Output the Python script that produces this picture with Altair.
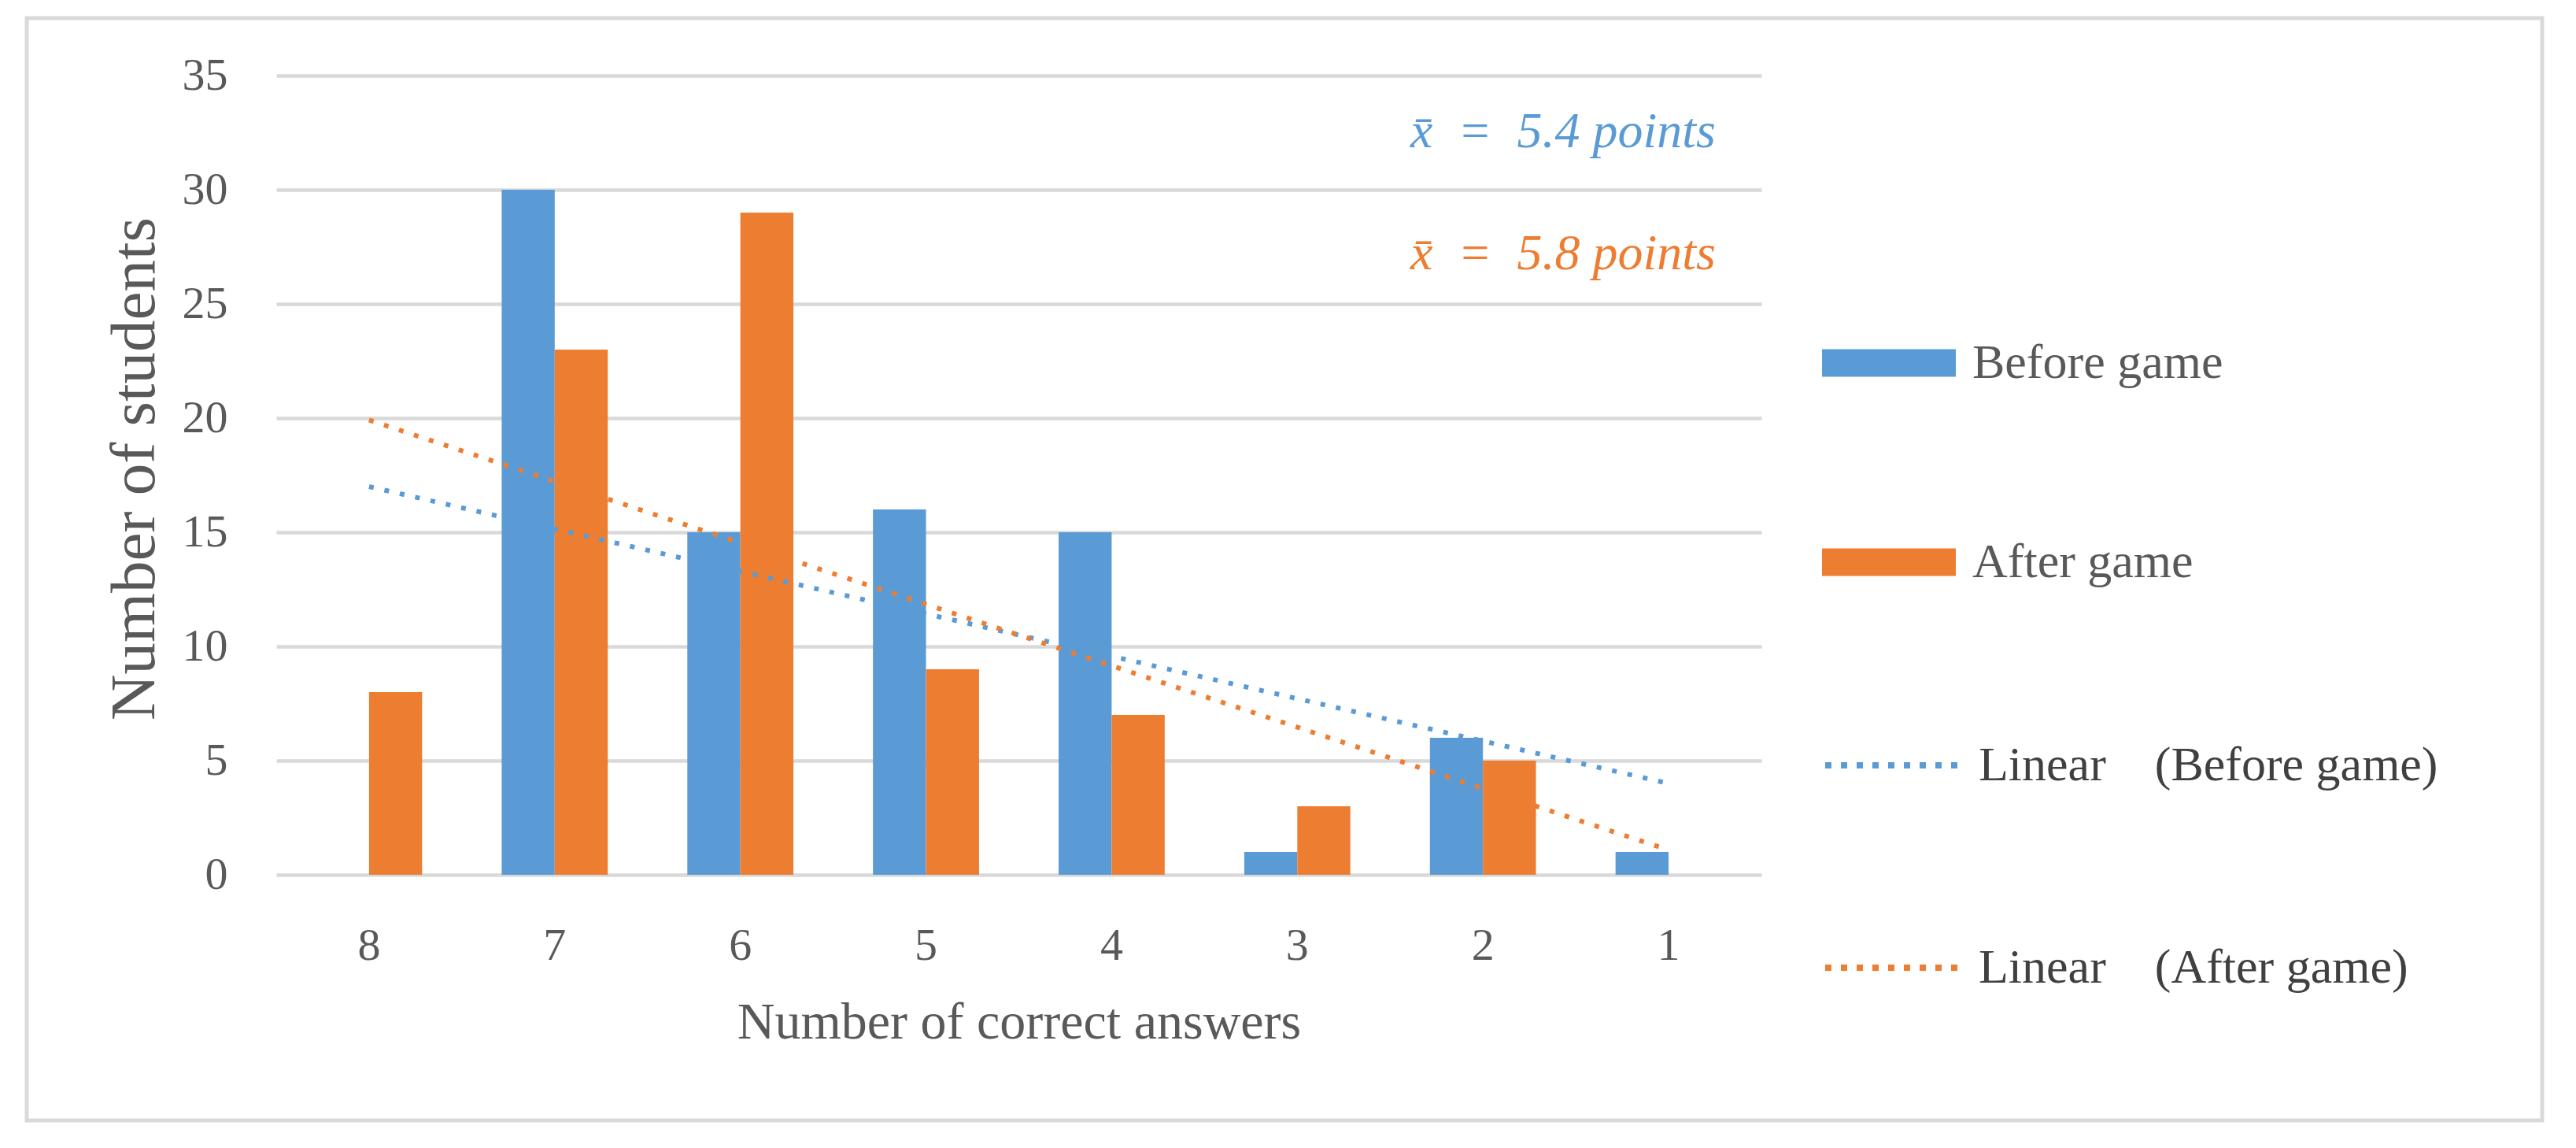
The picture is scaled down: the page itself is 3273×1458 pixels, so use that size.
import altair as alt
import pandas as pd

# ---- data ----
categories = ["8", "7", "6", "5", "4", "3", "2", "1"]
before_game = [0, 30, 15, 16, 15, 1, 6, 1]
after_game = [8, 23, 29, 9, 7, 3, 5, 0]
series_names = ["Before game", "After game"]
NB = "\u00a0"
trend_names = ["Linear" + NB * 4 + "(Before game)", "Linear" + NB * 4 + "(After game)"]
y_ticks = [0, 5, 10, 15, 20, 25, 30, 35]
annotations = ["x\u0304" + NB * 2 + "=" + NB * 2 + "5.4 points",
               "x\u0304" + NB * 2 + "=" + NB * 2 + "5.8 points"]

BLUE = "#5B9BD5"
ORANGE = "#ED7D31"
TEXT = "#595959"
GRID = "#D9D9D9"
FONT = "Liberation Serif"

rows = []
for i, (c, b, a) in enumerate(zip(categories, before_game, after_game)):
    rows.append({"cat": c, "idx": i + 1, "series": series_names[0], "value": b})
    rows.append({"cat": c, "idx": i + 1, "series": series_names[1], "value": a})
df = pd.DataFrame(rows)

x_enc = alt.X(
    "cat:N",
    scale=alt.Scale(domain=categories, paddingInner=0.4286, paddingOuter=0.2143),
    axis=alt.Axis(
        title="Number of correct answers",
        labelAngle=0, ticks=False, tickSize=0, domain=False, grid=False,
        labelFontSize=58, labelColor=TEXT, labelFont=FONT,
        labelBaseline="alphabetic", labelPadding=107,
        titleFontSize=66, titleColor=TEXT, titleFont=FONT, titleFontWeight="normal",
        titleX=943.5, titleY=207, titleBaseline="alphabetic", titleAlign="center",
    ),
)
y_enc = alt.Y(
    "value:Q",
    scale=alt.Scale(domain=[0, 35], nice=False),
    axis=alt.Axis(
        title="Number of students", values=y_ticks,
        ticks=False, tickSize=0, domain=False, grid=True,
        gridColor=GRID, gridWidth=4.5,
        labelFontSize=58, labelColor=TEXT, labelFont=FONT, labelPadding=62,
        titleFontSize=81, titleColor=TEXT, titleFont=FONT, titleFontWeight="normal",
        titleX=-139, titleY=499, titleAngle=-90, titleBaseline="bottom", titleAlign="center",
    ),
)

bars = alt.Chart(df).mark_bar().encode(
    x=x_enc,
    xOffset=alt.XOffset("series:N", sort=series_names, scale=alt.Scale(domain=series_names)),
    y=y_enc,
    fill=alt.Fill(
        "series:N",
        scale=alt.Scale(domain=series_names, range=[BLUE, ORANGE]),
        legend=alt.Legend(
            title=None, orient="none", legendX=1964, legendY=280, direction="vertical",
            symbolType="M-1,-0.206H1V0.206H-1Z", symbolSize=28900, symbolStrokeWidth=0,
            labelFontSize=62, labelFont=FONT, labelColor=TEXT, labelOffset=21,
            rowPadding=137, labelLimit=1000, padding=0,
        ),
    ),
)

trend = alt.Chart(df).transform_regression(
    "idx", "value", groupby=["series"], extent=[1, 8], method="linear"
).transform_calculate(
    cat="toString(9 - datum.idx)",
    trend="'Linear" + NB * 4 + "(' + datum.series + ')'",
).mark_line(strokeWidth=6, strokeDash=[6, 14]).encode(
    x=x_enc,
    y=y_enc,
    stroke=alt.Stroke(
        "trend:N",
        scale=alt.Scale(domain=trend_names, range=[BLUE, ORANGE]),
        legend=alt.Legend(
            title=None, orient="none", legendX=1964, legendY=787, direction="vertical",
            symbolType="stroke", symbolSize=28900, symbolStrokeWidth=8, symbolDash=[8, 12],
            labelFontSize=62, labelFont=FONT, labelColor="#404040", labelOffset=21,
            rowPadding=137, labelLimit=1500, padding=0,
        ),
    ),
)

ann_before = alt.Chart(alt.Data(values=[{"t": annotations[0]}])).mark_text(
    align="right", baseline="alphabetic", font=FONT, fontStyle="italic",
    fontSize=64, color=BLUE,
).encode(text="t:N", x=alt.value(1829), y=alt.value(91))

ann_after = alt.Chart(alt.Data(values=[{"t": annotations[1]}])).mark_text(
    align="right", baseline="alphabetic", font=FONT, fontStyle="italic",
    fontSize=64, color=ORANGE,
).encode(text="t:N", x=alt.value(1829), y=alt.value(246))

frame = alt.Chart(alt.Data(values=[{"f": 1}])).mark_rect(
    filled=False, stroke=GRID, strokeWidth=5
).encode(x=alt.value(-317), x2=alt.value(2879), y=alt.value(-73), y2=alt.value(1327))

chart = alt.layer(frame, bars, trend, ann_before, ann_after).properties(
    width=1887,
    height=1015,
    autosize=alt.AutoSizeParams(type="none"),
    padding={"left": 343, "top": 88, "right": 1020, "bottom": 330},
    background="white",
    view=alt.ViewBackground(strokeWidth=0, strokeOpacity=0),
).configure_view(strokeWidth=0, strokeOpacity=0).configure(
    font=FONT, style={"cell": {"strokeWidth": 0, "strokeOpacity": 0}}
)

chart.save("out.html", embed_options={"renderer": "svg", "actions": False})
